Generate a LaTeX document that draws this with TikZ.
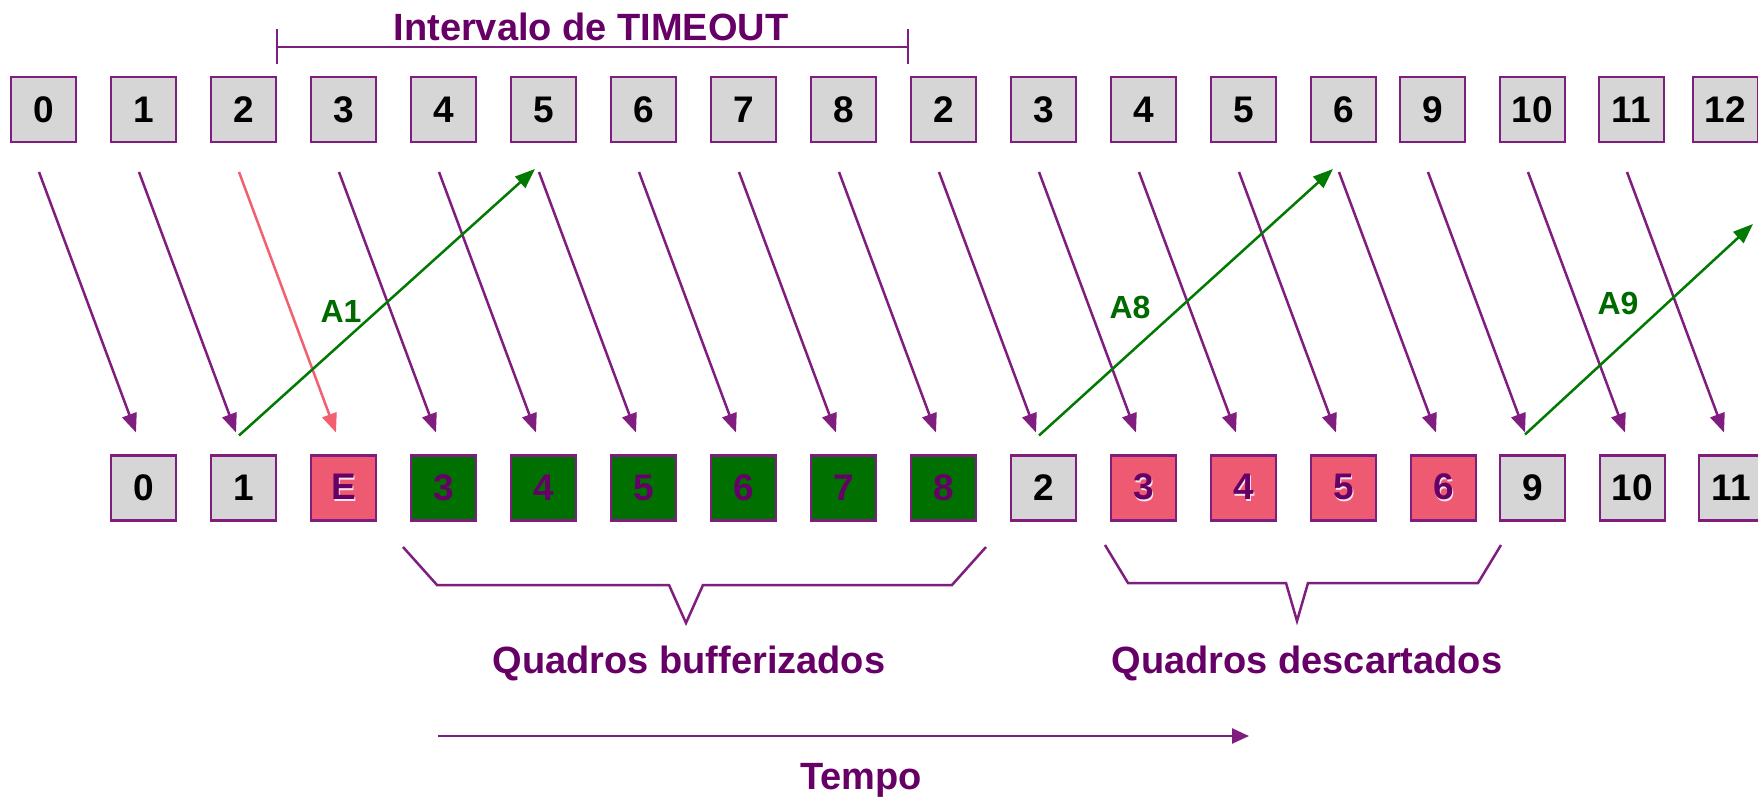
\documentclass[tikz,border=0pt]{standalone}
\usepackage{fontspec}
\setmainfont{Liberation Sans}
\usetikzlibrary{arrows.meta,calc}
\definecolor{pborder}{HTML}{801E80}
\definecolor{ptext}{HTML}{660066}
\definecolor{boxgrey}{HTML}{D6D6D6}
\definecolor{pinkfill}{HTML}{EE5A72}
\definecolor{greenfill}{HTML}{007000}
\definecolor{ackgreen}{HTML}{007A00}
\definecolor{acktext}{HTML}{006A00}
\definecolor{lossred}{HTML}{F25F6E}
\newcommand\glowtext[1]{\makebox[0pt][l]{\hspace{0.8pt}\raisebox{-0.8pt}{\color{white!85!pinkfill}#1}}#1}
\begin{document}
\begin{tikzpicture}[x=0.5pt,y=-0.5pt,
  frame/.style={draw=pborder, line width=1.35pt, minimum width=32.5pt, minimum height=32.5pt,
    inner sep=0pt, outer sep=0pt, font=\fontsize{18.5}{18.5}\selectfont\bfseries},
  greybox/.style={frame, fill=boxgrey, text=black},
  pinkbox/.style={frame, fill=pinkfill, text=ptext},
  greenbox/.style={frame, fill=greenfill, text=ptext},
  sendarrow/.style={draw=pborder, line width=1.25pt, -{Triangle[length=9.5pt,width=7.5pt]}},
  lostarrow/.style={draw=lossred, line width=1.25pt, -{Triangle[length=9.5pt,width=7.5pt]}},
  ackarrow/.style={draw=ackgreen, line width=1.25pt, -{Triangle[length=10pt,width=7.5pt]}},
  acklabel/.style={text=acktext, font=\fontsize{16}{16}\selectfont\bfseries},
  caption/.style={text=ptext, font=\fontsize{19}{19}\selectfont\bfseries, anchor=base},
  bracket/.style={draw=pborder, line width=1.25pt},
  timearrow/.style={draw=pborder, line width=1.25pt, -{Triangle[length=8.5pt,width=7.5pt]}}
]
\fill[white] (0,0) rectangle (1758,797);
\useasboundingbox (0,0) rectangle (1758,797);

% top row (sender)
\foreach \lab/\lx [count=\i from 0] in {0/11,1/111,2/211,3/311,4/411,5/511,6/611,7/711,8/811,
    2/911,3/1011,4/1111,5/1211,6/1311,9/1400,10/1500,11/1599,12/1693}
  \node[greybox] (t\i) at (\lx+32.5,109.5) {\lab};

% bottom row (receiver)
\node[greybox]  (b0)  at (143.5,488) {0};
\node[greybox]  (b1)  at (243.5,488) {1};
\node[pinkbox]  (b2)  at (343.5,488) {\glowtext{E}};
\node[greenbox] (b3)  at (443.5,488) {3};
\node[greenbox] (b4)  at (543.5,488) {4};
\node[greenbox] (b5)  at (643.5,488) {5};
\node[greenbox] (b6)  at (743.5,488) {6};
\node[greenbox] (b7)  at (843.5,488) {7};
\node[greenbox] (b8)  at (943.5,488) {8};
\node[greybox]  (b9)  at (1043.5,488) {2};
\node[pinkbox]  (b10) at (1143.5,488) {\glowtext{3}};
\node[pinkbox]  (b11) at (1243.5,488) {\glowtext{4}};
\node[pinkbox]  (b12) at (1343.5,488) {\glowtext{5}};
\node[pinkbox]  (b13) at (1443.5,488) {\glowtext{6}};
\node[greybox]  (b14) at (1532.5,488) {9};
\node[greybox]  (b15) at (1632.5,488) {10};
\node[greybox]  (b16) at (1731.5,488) {11};

% frame transmissions
\foreach \k in {0,1,3,4,5,6,7,8,9,10,11,12,13,14,15,16}
  \draw[sendarrow] ($(t\k.south west)+(28,30)$) -- ($(b\k.north west)+(25,-23)$);
\draw[lostarrow] ($(t2.south west)+(28,30)$) -- ($(b2.north west)+(25,-23)$);

% acknowledgements
\coordinate (a9end) at (1753,224);
\draw[ackarrow] ($(b1.north west)+(28,-20)$) -- ($(t5.south west)+(24,27)$);
\draw[ackarrow] ($(b9.north west)+(28,-20)$) -- ($(t13.south west)+(22,27)$);
\draw[ackarrow] ($(b14.north west)+(25,-21)$) -- (a9end);
\node[acklabel] (la1) at (341,311) {A1};
\node[acklabel] (la8) at (1130,307) {A8};
\node[acklabel] (la9) at (1618,303) {A9};

% timeout interval
\draw[bracket] ($(t2.north east)+(1,-48)$) -- ($(t2.north east)+(1,-13)$);
\draw[bracket] ($(t9.north west)+(-3,-48)$) -- ($(t9.north west)+(-3,-13)$);
\draw[bracket] ($(t2.north east)+(1,-30)$) -- ($(t9.north west)+(-3,-30)$);
\node[caption] (timeout) at (591,41) {Intervalo de TIMEOUT};

% braces
\draw[bracket] (403,547) -- (437,585) -- (669,585) -- (686,623) -- (703,585) -- (952,585) -- (986,547);
\draw[bracket] (1105,545) -- (1128,583) -- (1286,583) -- (1297,621) -- (1308,583) -- (1478,583) -- (1501,545);
\node[caption] (buf) at (689,673) {Quadros bufferizados};
\node[caption] (desc) at (1307,673) {Quadros descartados};

% time axis
\coordinate (tstart) at (438,736);
\coordinate (tend) at (1249,736);
\draw[timearrow] (tstart) -- (tend);
\node[caption] (tempo) at (861,789) {Tempo};
\end{tikzpicture}
\end{document}
